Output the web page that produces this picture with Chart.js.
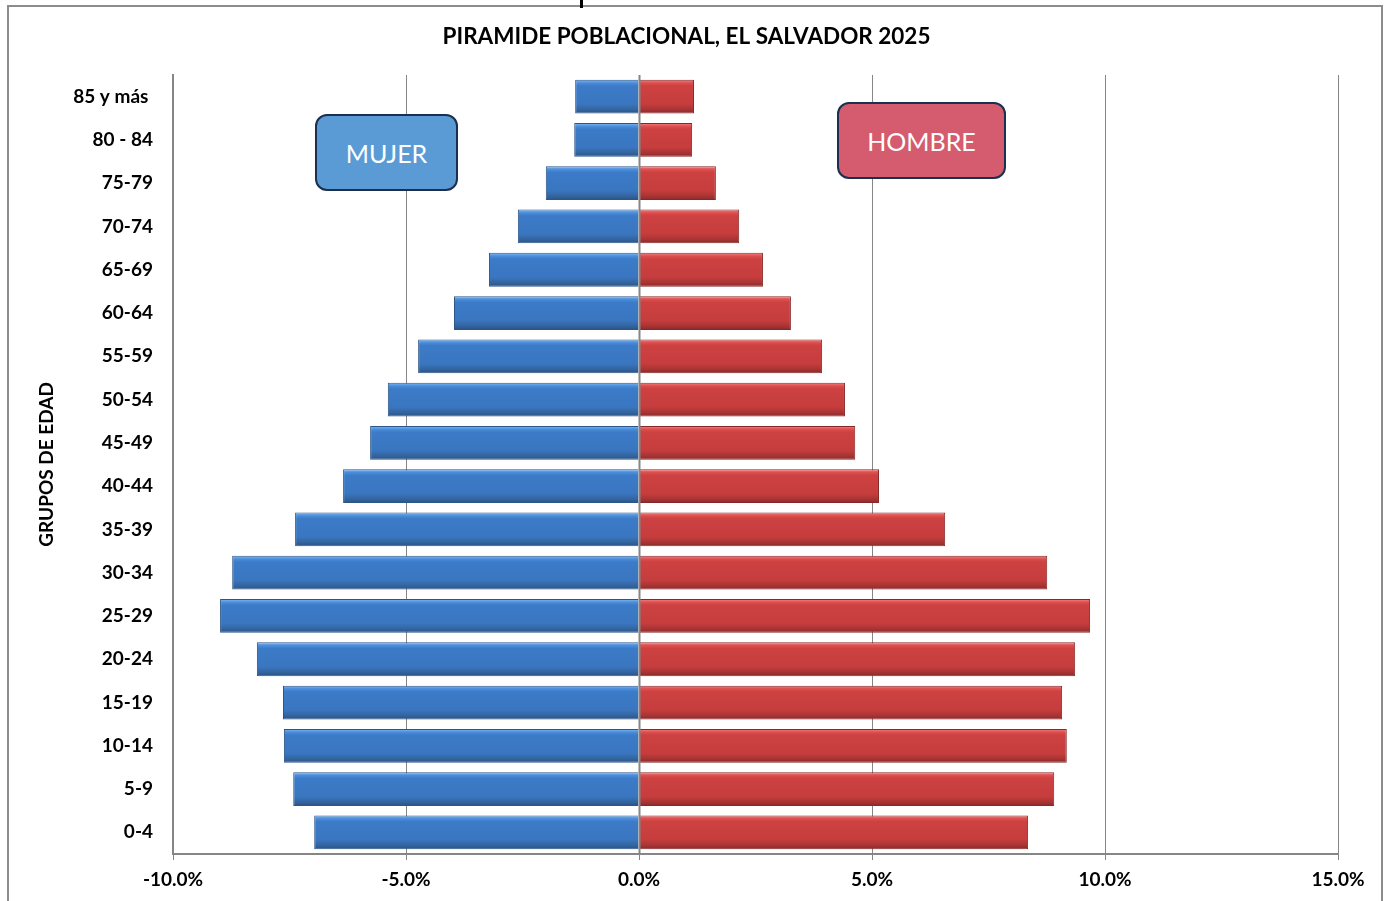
<!DOCTYPE html>
<html>
<head>
<meta charset="utf-8">
<script src="https://cdn.jsdelivr.net/npm/chart.js@4/dist/chart.umd.min.js"></script>
<style>
  body { margin: 0; background: #fff; overflow: hidden; }
  #wrap { position: absolute; left: 0; top: 0; width: 1393px; height: 901px; }
  #frame { position: absolute; left: 7px; top: 5px; width: 1376px; height: 910px; border: 2px solid #8c8c8c; box-sizing: border-box; }
  #stub { position: absolute; left: 580px; top: 0; width: 3px; height: 8px; background: #000; }
  .tag { position: absolute; box-sizing: border-box; border: 2px solid #1b2f4e; border-radius: 12px;
         color: #fff; font-family: Lato, "Open Sans", sans-serif; font-size: 25px;
         display: flex; align-items: center; justify-content: center; }
  #mujer { left: 315px; top: 114px; width: 143px; height: 77px; background: #5b9bd5; }
  #hombre { left: 837px; top: 102px; width: 169px; height: 77px; background: #d45c6e; }
</style>
</head>
<body>
<div id="frame"></div>
<div id="stub"></div>
<div id="wrap"><canvas id="chart"></canvas></div>
<div class="tag" id="mujer">MUJER</div>
<div class="tag" id="hombre">HOMBRE</div>
<script>
const ageGroups = ['85 y más ', '80 - 84', '75-79', '70-74', '65-69', '60-64', '55-59', '50-54', '45-49',
  '40-44', '35-39', '30-34', '25-29', '20-24', '15-19', '10-14', '5-9', '0-4'];
// percent of population
const mujer = [1.37, 1.39, 2.0, 2.6, 3.22, 3.97, 4.74, 5.39, 5.77, 6.35, 7.38, 8.73, 8.99, 8.20, 7.64, 7.62, 7.42, 6.97];
const hombre = [1.18, 1.14, 1.65, 2.15, 2.66, 3.26, 3.93, 4.42, 4.64, 5.15, 6.57, 8.76, 9.68, 9.36, 9.08, 9.18, 8.91, 8.35];
const xTicks = [-10, -5, 0, 5, 10, 15];

const BAR_PCT = 0.78;
const GRID = '#868686';
const FONT = 'Lato, "Open Sans", sans-serif';

function barFill(stops, flat) {
  return (ctx) => {
    const chart = ctx.chart;
    const ys = chart.scales && chart.scales.y;
    if (!chart.chartArea || !ys || ctx.dataIndex === undefined) return flat;
    const yc = ys.getPixelForValue(ctx.dataIndex);
    const band = Math.abs(ys.getPixelForValue(1) - ys.getPixelForValue(0));
    const half = band * BAR_PCT / 2;
    const g = chart.ctx.createLinearGradient(0, yc - half, 0, yc + half);
    stops.forEach(([p, c]) => g.addColorStop(p, c));
    return g;
  };
}

const blueStops = [[0, '#80bdf7'], [0.09, '#4d8fdc'], [0.18, '#3c7bc8'], [0.72, '#3a76c0'], [0.88, '#33659f'], [1, '#2a5286']];
const redStops = [[0, '#f78686'], [0.09, '#df5050'], [0.18, '#cd4141'], [0.72, '#c63d3d'], [0.88, '#a93434'], [1, '#8a2a2a']];

const zeroLine = {
  id: 'zeroLine',
  afterDatasetsDraw(chart) {
    const { ctx, chartArea, scales } = chart;
    const x = Math.round(scales.x.getPixelForValue(0)) + 0.5;
    ctx.save();
    ctx.strokeStyle = GRID;
    ctx.lineWidth = 2;
    ctx.beginPath();
    ctx.moveTo(x, chartArea.top);
    ctx.lineTo(x, chartArea.bottom);
    ctx.stroke();
    ctx.restore();
  }
};

new Chart(document.getElementById('chart'), {
  type: 'bar',
  data: {
    labels: ageGroups,
    datasets: [
      {
        label: 'MUJER',
        data: mujer.map(v => -v),
        backgroundColor: barFill(blueStops, '#3a78c4'),
        borderColor: '#2c5589',
        borderWidth: 1,
        barPercentage: BAR_PCT,
        categoryPercentage: 1
      },
      {
        label: 'HOMBRE',
        data: hombre,
        backgroundColor: barFill(redStops, '#c83f3f'),
        borderColor: '#862828',
        borderWidth: 1,
        barPercentage: BAR_PCT,
        categoryPercentage: 1
      }
    ]
  },
  options: {
    indexAxis: 'y',
    responsive: true,
    maintainAspectRatio: false,
    animation: false,
    layout: { padding: { left: 35, right: 55, top: 0, bottom: 0 } },
    plugins: {
      legend: { display: false },
      tooltip: { enabled: false },
      title: {
        display: true,
        text: 'PIRAMIDE POBLACIONAL, EL SALVADOR 2025',
        color: '#000',
        font: { family: FONT, size: 22.5, weight: 'bold' },
        padding: { top: 23, bottom: 25 }
      }
    },
    scales: {
      x: {
        stacked: true,
        min: -10,
        max: 15,
        afterBuildTicks: (s) => { s.ticks = xTicks.map(v => ({ value: v })); },
        afterFit: (s) => { s.height = 47; },
        grid: { color: GRID, lineWidth: 1, drawTicks: true, tickLength: 6, tickColor: GRID },
        border: { display: true, color: GRID, width: 2 },
        ticks: {
          padding: 8,
          color: '#000',
          font: { family: FONT, size: 19, weight: 'bold' },
          callback: (v) => Number(v).toFixed(1) + '%'
        }
      },
      y: {
        stacked: true,
        afterFit: (s) => { s.width = 138; },
        grid: { display: false, drawTicks: false },
        border: { display: true, color: GRID, width: 2 },
        title: {
          display: true,
          text: 'GRUPOS DE EDAD',
          color: '#000',
          font: { family: FONT, size: 19, weight: 'bold' },
          padding: { top: 0, bottom: 0 }
        },
        ticks: {
          padding: 20,
          color: '#000',
          font: { family: FONT, size: 19, weight: 'bold' }
        }
      }
    }
  },
  plugins: [zeroLine]
});
</script>
</body>
</html>
